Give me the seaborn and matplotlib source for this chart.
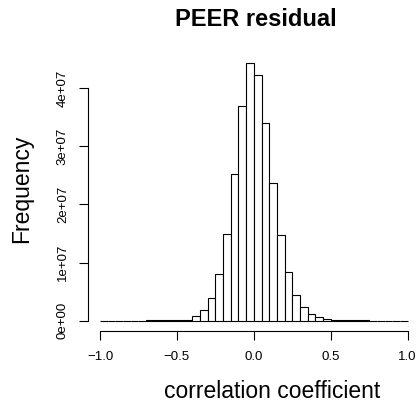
import numpy as np
import pandas as pd
import matplotlib
matplotlib.use("Agg")
import matplotlib.pyplot as plt
import seaborn as sns

# bins of width 0.05 from -1 to 1, counts
bin_edges = [round(-1.0 + 0.05 * i, 2) for i in range(41)]
counts = [
    5e3, 8e3, 1e4, 1.5e4, 2e4, 3e4, 4.5e4, 6.5e4, 9e4, 1.3e5, 1.0e5,   # -1.00 .. -0.50
    2.0e5, 7.5e5, 1.8e6, 3.9e6, 8.0e6, 1.49e7, 2.52e7, 3.69e7, 4.43e7,  # -0.45 .. -0.05
    4.22e7, 3.40e7, 2.37e7, 1.47e7, 8.3e6, 4.4e6, 2.4e6, 1.2e6, 6.5e5,  # 0.00 .. 0.40
    3.5e5, 1.5e5, 1.0e5,                                                # 0.45 .. 0.55
    7e4, 5e4, 3.5e4, 2.5e4, 1.8e4, 1.2e4, 8e3, 5e3,                     # 0.60 .. 0.95
]
x_ticks = [-1.0, -0.5, 0.0, 0.5, 1.0]
x_tick_labels = ["\u22121.0", "\u22120.5", "0.0", "0.5", "1.0"]
y_ticks = [0, 1e7, 2e7, 3e7, 4e7]
y_tick_labels = ["0e+00", "1e+07", "2e+07", "3e+07", "4e+07"]

df = pd.DataFrame({
    "center": [(a + b) / 2 for a, b in zip(bin_edges[:-1], bin_edges[1:])],
    "count": counts,
})

sns.set_style("white")
plt.rcParams["font.family"] = ["Liberation Sans", "DejaVu Sans"]
plt.rcParams["text.color"] = "black"

W, H = 419, 408
fig = plt.figure(figsize=(W / 100, H / 100), dpi=100)
ax = fig.add_axes([87.7 / W, 77 / H, 332.3 / W, 278.1 / H])

sns.histplot(data=df, x="center", weights="count", bins=bin_edges,
             color="white", edgecolor="black", linewidth=0.8, alpha=1, ax=ax)

ymax = max(counts)
ax.set_xlim(-1.08, 1.08)
ax.set_ylim(-0.04 * ymax, 1.04 * ymax)

for s in ["top", "right"]:
    ax.spines[s].set_visible(False)
ax.spines["left"].set_bounds(0, 4e7)
ax.spines["bottom"].set_bounds(-1, 1)
for s in ["left", "bottom"]:
    ax.spines[s].set_linewidth(0.8)
    ax.spines[s].set_color("black")

ax.set_xticks(x_ticks)
ax.set_xticklabels(x_tick_labels, fontsize=9.5)
ax.set_yticks(y_ticks)
ax.set_yticklabels(y_tick_labels, fontsize=9.5, rotation=90, va="center")
ax.tick_params(axis="both", direction="out", length=6.5, width=0.8,
               colors="black", labelcolor="black", left=True, bottom=True)
ax.tick_params(axis="x", pad=8)
ax.tick_params(axis="y", pad=7)
ax.set_xlabel("")
ax.set_ylabel("")

fig.text(256 / W, 1 - 20 / H, "PEER residual", ha="center", va="center",
         fontsize=17, fontweight="bold", color="black")
fig.text(272.5 / W, 1 - 392 / H, "correlation coefficient", ha="center",
         va="center", fontsize=16.5, color="black")
fig.text(22 / W, 1 - 189 / H, "Frequency", ha="center", va="center",
         fontsize=16.5, rotation=90, color="black")

fig.savefig("out.png", dpi=100, facecolor="white")
